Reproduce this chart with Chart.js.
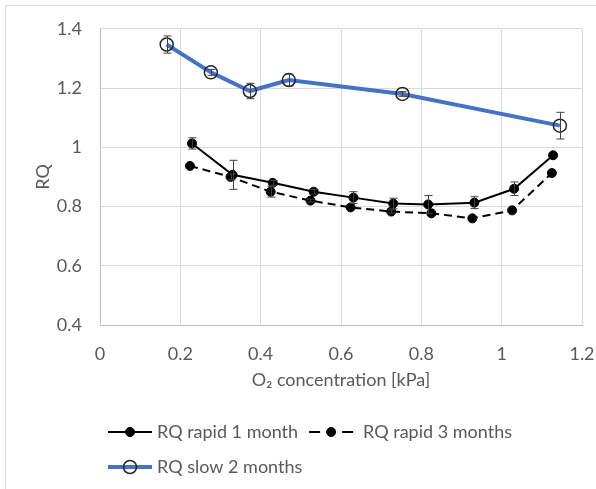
<!DOCTYPE html>
<html>
<head>
<meta charset="utf-8">
<script src="https://cdn.jsdelivr.net/npm/chart.js@4.4.1/dist/chart.umd.min.js"></script>
<style>
  html, body { margin: 0; padding: 0; background: #fff; }
</style>
</head>
<body>
<canvas id="rq" width="596" height="489"></canvas>
<script>
// RQ vs O2 concentration, three storage series with error bars
var xTickLabels = ['0', '0.2', '0.4', '0.6', '0.8', '1', '1.2'];
var yTickLabels = ['0.4', '0.6', '0.8', '1', '1.2', '1.4'];

var rapid1X   = [0.229, 0.330, 0.430, 0.532, 0.631, 0.730, 0.817, 0.932, 1.031, 1.128];
var rapid1Y   = [1.013, 0.907, 0.880, 0.850, 0.830, 0.810, 0.807, 0.813, 0.860, 0.973];
var rapid1Err = [0.019, 0.049, 0.008, 0.008, 0.020, 0.018, 0.030, 0.020, 0.023, 0.000];

var rapid3X   = [0.224, 0.325, 0.425, 0.524, 0.624, 0.725, 0.825, 0.927, 1.026, 1.125];
var rapid3Y   = [0.937, 0.900, 0.850, 0.820, 0.797, 0.783, 0.777, 0.760, 0.787, 0.913];
var rapid3Err = [0.000, 0.010, 0.018, 0.005, 0.000, 0.005, 0.000, 0.000, 0.000, 0.000];

var slowX   = [0.166, 0.276, 0.373, 0.470, 0.753, 1.145];
var slowY   = [1.347, 1.253, 1.190, 1.227, 1.180, 1.073];
var slowErr = [0.029, 0.010, 0.026, 0.020, 0.008, 0.045];

var seriesNames = ['RQ rapid 1 month', 'RQ rapid 3 months', 'RQ slow 2 months'];

var TEXT = '#595959';
var FONT = 'Lato';
var FSIZE = 18;

function pts(xs, ys) {
  return xs.map(function(x, i) { return { x: x, y: ys[i] }; });
}

// vertical error bars with small caps
var errorBars = {
  id: 'errorBars',
  afterDatasetsDraw: function(chart) {
    var ctx = chart.ctx, xs = chart.scales.x, ys = chart.scales.y;
    ctx.save();
    ctx.strokeStyle = '#404040';
    ctx.lineWidth = 1;
    chart.data.datasets.forEach(function(ds) {
      (ds.errors || []).forEach(function(e, i) {
        if (!e) return;
        var p = ds.data[i];
        var px = Math.round(xs.getPixelForValue(p.x)) + 0.5;
        var top = ys.getPixelForValue(p.y + e);
        var bot = ys.getPixelForValue(p.y - e);
        ctx.beginPath();
        ctx.moveTo(px, top); ctx.lineTo(px, bot);
        ctx.moveTo(px - 4, top); ctx.lineTo(px + 4, top);
        ctx.moveTo(px - 4, bot); ctx.lineTo(px + 4, bot);
        ctx.stroke();
      });
    });
    ctx.restore();
  }
};

// white background and the light frame round the chart
var frame = {
  id: 'frame',
  beforeDraw: function(chart) {
    var ctx = chart.ctx;
    ctx.save();
    ctx.fillStyle = '#fff';
    ctx.fillRect(0, 0, chart.width, chart.height);
    ctx.strokeStyle = '#d9d9d9';
    ctx.lineWidth = 1;
    ctx.strokeRect(5.5, 5.5, 1000, 1000);
    ctx.restore();
  }
};

// legend under the axis: two rows, left aligned
var legendRows = {
  id: 'legendRows',
  afterDraw: function(chart) {
    var ctx = chart.ctx;
    var ds = chart.data.datasets;
    ctx.save();
    ctx.font = FSIZE + 'px ' + FONT;
    ctx.textBaseline = 'middle';
    ctx.fillStyle = TEXT;

    function sample(x, y, d) {
      ctx.save();
      ctx.strokeStyle = d.borderColor;
      ctx.lineWidth = d.borderWidth;
      ctx.beginPath();
      if (d.borderDash && d.borderDash.length) {
        ctx.moveTo(x, y); ctx.lineTo(x + 11, y);
        ctx.moveTo(x + 33, y); ctx.lineTo(x + 44, y);
      } else {
        ctx.moveTo(x, y); ctx.lineTo(x + 44, y);
      }
      ctx.stroke();
      ctx.beginPath();
      ctx.arc(x + 22, y, d.pointRadius, 0, Math.PI * 2);
      if (d.pointBackgroundColor !== 'transparent') {
        ctx.fillStyle = d.pointBackgroundColor;
        ctx.fill();
      }
      ctx.strokeStyle = d.pointBorderColor;
      ctx.lineWidth = d.pointBorderWidth;
      ctx.stroke();
      ctx.restore();
    }

    var x = 108, y1 = 432, y2 = 467;
    sample(x, y1, ds[0]);
    ctx.fillText(ds[0].label, x + 49, y1);
    var x2 = x + 49 + ctx.measureText(ds[0].label).width + 11;
    sample(x2, y1, ds[1]);
    ctx.fillText(ds[1].label, x2 + 54, y1);
    sample(x, y2, ds[2]);
    ctx.fillText(ds[2].label, x + 49, y2);
    ctx.restore();
  }
};

new Chart(document.getElementById('rq'), {
  type: 'scatter',
  data: {
    datasets: [{
      label: seriesNames[0],
      data: pts(rapid1X, rapid1Y),
      errors: rapid1Err,
      showLine: true,
      borderColor: '#000',
      borderWidth: 2,
      pointRadius: 4.5,
      pointBackgroundColor: '#000',
      pointBorderColor: '#000',
      pointBorderWidth: 1
    }, {
      label: seriesNames[1],
      data: pts(rapid3X, rapid3Y),
      errors: rapid3Err,
      showLine: true,
      borderColor: '#000',
      borderWidth: 2,
      borderDash: [8, 5],
      pointRadius: 4.5,
      pointBackgroundColor: '#000',
      pointBorderColor: '#000',
      pointBorderWidth: 1
    }, {
      label: seriesNames[2],
      data: pts(slowX, slowY),
      errors: slowErr,
      showLine: true,
      borderColor: '#4472c4',
      borderWidth: 4,
      pointRadius: 6.5,
      pointBackgroundColor: 'transparent',
      pointBorderColor: '#262626',
      pointBorderWidth: 1.5
    }]
  },
  options: {
    responsive: false,
    animation: false,
    layout: { padding: { left: 0, top: 27, right: 0, bottom: 94 } },
    plugins: {
      legend: { display: false },
      tooltip: { enabled: false }
    },
    scales: {
      x: {
        type: 'linear',
        min: 0, max: 1.2,
        afterBuildTicks: function(s) {
          s.ticks = xTickLabels.map(function(t) { return { value: parseFloat(t) }; });
        },
        afterFit: function(s) { s.height = 70; s.paddingRight = 14; },
        ticks: {
          padding: 18,
          color: TEXT,
          font: { family: FONT, size: FSIZE },
          maxRotation: 0,
          callback: function(v, i) { return xTickLabels[i]; }
        },
        grid: { color: '#d9d9d9', drawTicks: false },
        border: { color: '#bfbfbf' },
        title: {
          display: true,
          text: 'O\u2082 concentration [kPa]',
          color: TEXT,
          font: { family: FONT, size: FSIZE },
          padding: { top: 0, bottom: 4 }
        }
      },
      y: {
        type: 'linear',
        min: 0.4, max: 1.4,
        afterBuildTicks: function(s) {
          s.ticks = yTickLabels.map(function(t) { return { value: parseFloat(t) }; });
        },
        afterFit: function(s) { s.width = 100; },
        ticks: {
          padding: 18,
          color: TEXT,
          font: { family: FONT, size: FSIZE },
          callback: function(v, i) { return yTickLabels[i]; }
        },
        grid: { color: '#d9d9d9', drawTicks: false },
        border: { color: '#bfbfbf' },
        title: {
          display: true,
          text: 'RQ',
          color: TEXT,
          font: { family: FONT, size: FSIZE },
          padding: { top: 32, bottom: 0 }
        }
      }
    }
  },
  plugins: [frame, errorBars, legendRows]
});
</script>
</body>
</html>
